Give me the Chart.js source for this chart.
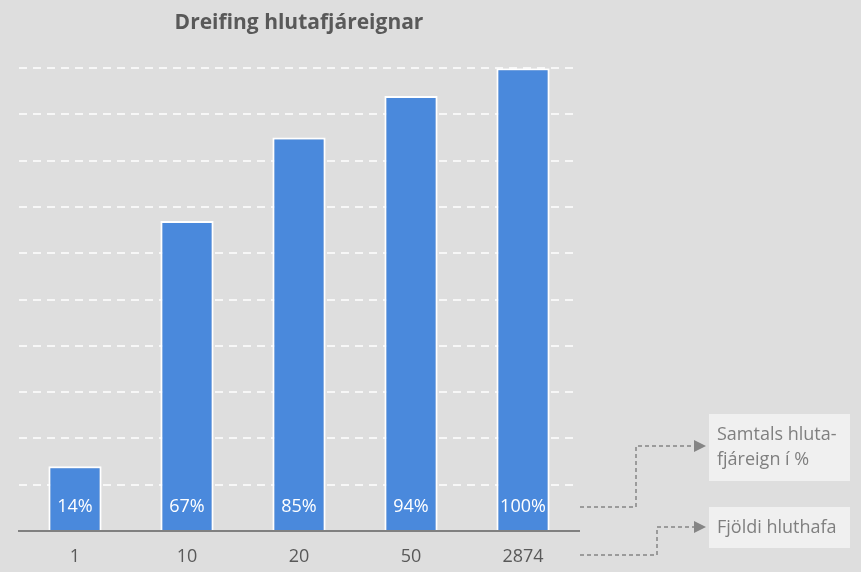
<!DOCTYPE html>
<html>
<head>
<meta charset="utf-8">
<script src="https://cdn.jsdelivr.net/npm/chart.js@4/dist/chart.umd.min.js"></script>
<style>
  html, body { margin: 0; padding: 0; background: #dedede; }
  #wrap { width: 861px; height: 572px; }
</style>
</head>
<body>
<div id="wrap"><canvas id="dreifing" width="861" height="572"></canvas></div>
<script>
// fjoldi hluthafa (x labels) og samtals hlutafjareign i %
var categories = ["1", "10", "20", "50", "2874"];
var shareValues = [14, 67, 85, 94, 100];
var valueLabels = ["14%", "67%", "85%", "94%", "100%"];
var legendNotes = [["Samtals hluta-", "fjáreign í %"], ["Fjöldi hluthafa"]];

var FONT = "'Open Sans', sans-serif";

function arrowLine(ctx, pts) {
  ctx.save();
  ctx.strokeStyle = "#858585";
  ctx.lineWidth = 1.5;
  ctx.setLineDash([4, 3]);
  ctx.beginPath();
  ctx.moveTo(pts[0][0], pts[0][1]);
  for (var i = 1; i < pts.length; i++) ctx.lineTo(pts[i][0], pts[i][1]);
  ctx.stroke();
  var end = pts[pts.length - 1];
  ctx.setLineDash([]);
  ctx.fillStyle = "#858585";
  ctx.beginPath();
  ctx.moveTo(end[0], end[1] - 6);
  ctx.lineTo(end[0] + 12, end[1]);
  ctx.lineTo(end[0], end[1] + 6);
  ctx.closePath();
  ctx.fill();
  ctx.restore();
}

function noteBox(ctx, x, y, w, h, lines) {
  ctx.save();
  ctx.fillStyle = "#f0f0f0";
  ctx.fillRect(x, y, w, h);
  ctx.fillStyle = "#7f7f7f";
  ctx.font = "18px " + FONT;
  ctx.textBaseline = "middle";
  ctx.textAlign = "left";
  var lh = 25;
  var top = y + h / 2 - (lines.length - 1) * lh / 2;
  for (var i = 0; i < lines.length; i++) ctx.fillText(lines[i], x + 8, top + i * lh);
  ctx.restore();
}

var barLabels = {
  id: "barLabels",
  afterDatasetsDraw: function (chart) {
    var ctx = chart.ctx;
    var meta = chart.getDatasetMeta(0);
    ctx.save();
    ctx.fillStyle = "#ffffff";
    ctx.font = "18px " + FONT;
    ctx.textAlign = "center";
    ctx.textBaseline = "middle";
    meta.data.forEach(function (bar, i) {
      ctx.fillText(valueLabels[i], bar.x, bar.base - 23);
    });
    ctx.restore();
  }
};

var sideNotes = {
  id: "sideNotes",
  afterDraw: function (chart) {
    var ctx = chart.ctx;
    var area = chart.chartArea;
    var base = chart.scales.y.getPixelForValue(0);
    var y1 = base - 24;
    var y2 = base + 24;
    var left = area.right + 1;
    arrowLine(ctx, [[left, y1], [left + 56, y1], [left + 56, y1 - 61], [left + 114, y1 - 61]]);
    arrowLine(ctx, [[left, y2], [left + 77, y2], [left + 77, y2 - 28], [left + 114, y2 - 28]]);
    noteBox(ctx, left + 129, y1 - 93, 141, 67, legendNotes[0]);
    noteBox(ctx, left + 129, y2 - 48, 141, 41, legendNotes[1]);
  }
};

new Chart("dreifing", {
  type: "bar",
  data: {
    labels: categories,
    datasets: [
      {
        data: shareValues,
        backgroundColor: "#4a89dc",
        borderColor: "#ffffff",
        borderWidth: 2,
        barPercentage: 0.95,
        categoryPercentage: 0.5,
      },
    ],
  },
  options: {
    responsive: false,
    animation: false,
    layout: { padding: { left: 19, right: 282, top: 0, bottom: 0 } },
    plugins: {
      legend: { display: false },
      tooltip: { enabled: false },
      title: {
        display: true,
        text: "Dreifing hlutafjáreignar",
        color: "#595959",
        font: { family: FONT, size: 21, weight: "bold", lineHeight: 1.2 },
        padding: { top: 10, bottom: 33 },
      },
    },
    scales: {
      x: {
        grid: { display: false, drawTicks: false },
        border: { display: true, color: "#808080", width: 2 },
        ticks: { color: "#595959", padding: 15, font: { family: FONT, size: 18 } },
        afterFit: function (scale) { scale.height = 41; },
      },
      y: {
        min: 0,
        max: 100,
        ticks: { display: false, stepSize: 10 },
        grid: {
          drawTicks: false,
          lineWidth: 2,
          color: function (c) { return c.tick && c.tick.value === 0 ? "rgba(0,0,0,0)" : "#f7f7f7"; },
        },
        border: { display: false, dash: [8, 6] },
      },
    },
  },
  plugins: [barLabels, sideNotes],
});
</script>
</body>
</html>
